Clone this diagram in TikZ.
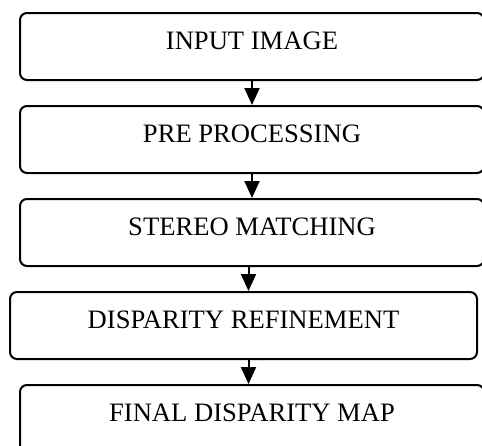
\documentclass[tikz,border=0pt]{standalone}
\usepackage{fontspec}
\setmainfont{Liberation Serif}
\usepackage{tikz}
\usetikzlibrary{positioning,arrows.meta}

\begin{document}
\begin{tikzpicture}[
    stage/.style={draw, line width=1pt, rounded corners=3.5pt,
      minimum width=232pt, minimum height=33.5pt, inner sep=0pt,
      text height=9pt, text depth=6pt,
      font=\fontsize{13.3pt}{15pt}\selectfont},
    flow/.style={line width=1pt, -{Triangle[length=8.5pt,width=7.5pt]}},
    node distance=12pt
  ]
  % Frame
  \useasboundingbox (0,0) rectangle (241pt,-222.5pt);

  % Stages
  \node[stage] (input) at (126pt,-23.25pt) {INPUT IMAGE};
  \node[stage, below=of input] (pre) {PRE PROCESSING};
  \node[stage, below=of pre] (match) {STEREO MATCHING};
  \node[stage, below=of match, xshift=-4.25pt, minimum width=233.5pt] (refine) {DISPARITY REFINEMENT};
  \node[stage, below=of refine, xshift=4.25pt] (final) {FINAL DISPARITY MAP};

  % Arrows
  \coordinate (spine) at (124.25pt,0);
  \draw[flow] (input.south) -- (input.south |- pre.north);
  \draw[flow] (pre.south) -- (pre.south |- match.north);
  \draw[flow] (spine |- match.south) -- (spine |- refine.north);
  \draw[flow] (spine |- refine.south) -- (spine |- final.north);
\end{tikzpicture}
\end{document}
